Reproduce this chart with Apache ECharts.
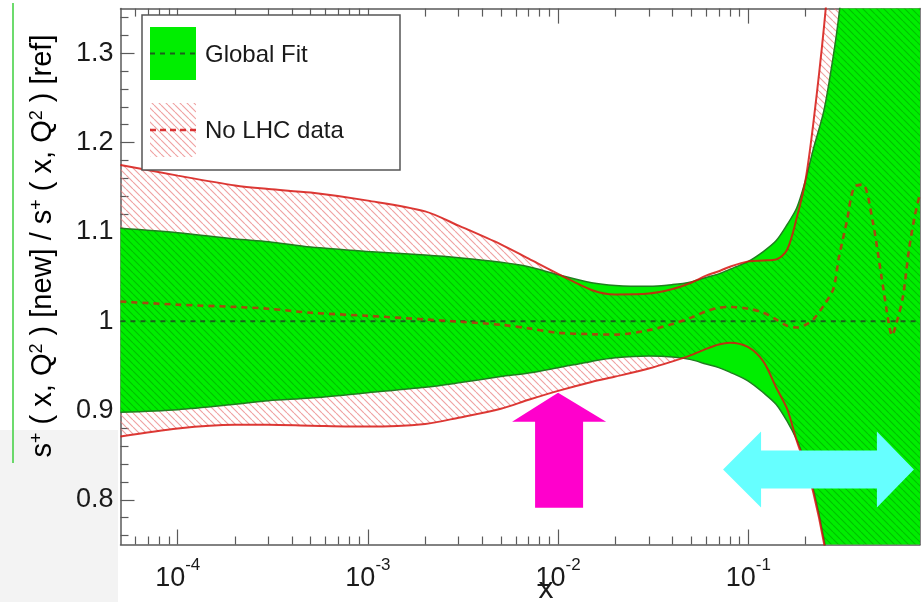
<!DOCTYPE html>
<html>
<head>
<meta charset="utf-8">
<script src="https://cdn.jsdelivr.net/npm/echarts@6/dist/echarts.min.js"></script>
<style>
  html, body { margin: 0; padding: 0; background: #ffffff; }
  #chart { width: 924px; height: 602px; }
</style>
</head>
<body>
<div id="chart"></div>
<script>
// Momentum fraction grid shared by every curve
const xs = [5e-5, 1e-4, 2e-4, 3e-4, 5e-4, 1e-3, 2e-3, 3e-3, 5e-3, 7e-3,
            1e-2, 1.5e-2, 2e-2, 3e-2, 4e-2, 5e-2, 6e-2, 7e-2, 8e-2, 0.1,
            0.12, 0.14, 0.16, 0.18, 0.2, 0.22, 0.25, 0.28, 0.3, 0.33,
            0.36, 0.4, 0.45, 0.5, 0.55, 0.57, 0.6, 0.65, 0.7, 0.75, 0.8];

// Global Fit uncertainty band (ratio to reference)
const gfUpper = [1.104, 1.099, 1.092, 1.089, 1.083, 1.078, 1.074, 1.071, 1.066, 1.061,
                 1.052, 1.043, 1.040, 1.039, 1.041, 1.044, 1.049, 1.053, 1.058, 1.067,
                 1.078, 1.090, 1.108, 1.127, 1.158, 1.193, 1.236, 1.297, 1.343, 1.42,
                 1.50, 1.60, 1.72, 1.85, 1.98, 2.03, 2.10, 2.20, 2.30, 2.40, 2.50];
const gfLower = [0.898, 0.901, 0.907, 0.911, 0.914, 0.920, 0.926, 0.931, 0.938, 0.942,
                 0.948, 0.955, 0.959, 0.961, 0.960, 0.957, 0.952, 0.948, 0.943, 0.933,
                 0.920, 0.907, 0.888, 0.867, 0.842, 0.812, 0.756, 0.69, 0.64, 0.57,
                 0.50, 0.43, 0.36, 0.30, 0.25, 0.23, 0.20, 0.16, 0.13, 0.10, 0.08];
// Global Fit central value (unit ratio)
const gfCentralX = [5e-5, 0.8];
const gfCentral = [1, 1];

// Fit without LHC data: band and central value
const nlUpper = [1.175, 1.163, 1.152, 1.148, 1.144, 1.135, 1.123, 1.107, 1.086, 1.070,
                 1.053, 1.035, 1.030, 1.031, 1.036, 1.043, 1.051, 1.056, 1.061, 1.067,
                 1.068, 1.069, 1.080, 1.116, 1.158, 1.222, 1.329, 1.45, 1.55, 1.70,
                 1.85, 2.0, 2.2, 2.4, 2.6, 2.68, 2.8, 3.0, 3.2, 3.4, 3.6];
const nlLower = [0.871, 0.880, 0.884, 0.884, 0.883, 0.882, 0.885, 0.892, 0.902, 0.912,
                 0.922, 0.932, 0.938, 0.947, 0.955, 0.962, 0.969, 0.974, 0.976, 0.971,
                 0.955, 0.926, 0.902, 0.866, 0.838, 0.808, 0.752, 0.685, 0.63, 0.56,
                 0.49, 0.42, 0.35, 0.29, 0.24, 0.22, 0.19, 0.15, 0.12, 0.09, 0.07];
const nlCentral = [1.022, 1.0185, 1.016, 1.014, 1.0095, 1.006, 1.002, 0.9995, 0.996, 0.992,
                   0.987, 0.9855, 0.985, 0.990, 0.997, 1.004, 1.011, 1.015, 1.016, 1.014,
                   1.0095, 1.002, 0.995, 0.993, 0.996, 1.002, 1.018, 1.036, 1.072, 1.112,
                   1.150, 1.153, 1.113, 1.052, 0.996, 0.984, 0.997, 1.027, 1.080, 1.117, 1.143];

// Axis ticks and labels
const xMajor = [1e-4, 1e-3, 1e-2, 1e-1];
const xMinor = [6e-5, 7e-5, 8e-5, 9e-5,
                2e-4, 3e-4, 4e-4, 5e-4, 6e-4, 7e-4, 8e-4, 9e-4,
                2e-3, 3e-3, 4e-3, 5e-3, 6e-3, 7e-3, 8e-3, 9e-3,
                2e-2, 3e-2, 4e-2, 5e-2, 6e-2, 7e-2, 8e-2, 9e-2,
                2e-1, 3e-1, 4e-1, 5e-1, 6e-1, 7e-1];
const yMajor = [0.8, 0.9, 1, 1.1, 1.2, 1.3];
const yMinor = [0.76, 0.78, 0.82, 0.84, 0.86, 0.88, 0.92, 0.94, 0.96, 0.98,
                1.02, 1.04, 1.06, 1.08, 1.12, 1.14, 1.16, 1.18, 1.22, 1.24,
                1.26, 1.28, 1.32, 1.34];

// Annotation anchors in data coordinates
const upArrowTip = [0.01, 0.92];
const spanArrow = { from: 0.0737, to: 0.743, y: 0.834 };

const FONT = '"Liberation Sans", Arial, Helvetica, sans-serif';
const GREEN = '#00ee00';
const SMOOTH = 0.3;

function hatch(color, period, width) {
  const c = document.createElement('canvas');
  c.width = period; c.height = period;
  const g = c.getContext('2d');
  g.strokeStyle = color; g.lineWidth = width;
  g.beginPath();
  for (let k = -1; k <= 1; k++) {
    g.moveTo(k * period, 0);
    g.lineTo(k * period + period, period);
  }
  g.stroke();
  return c;
}
const pinkHatch = { image: hatch('rgba(232,120,120,0.7)', 7, 1.1), repeat: 'repeat' };
const darkHatch = { image: hatch('rgba(0,95,0,0.32)', 7, 1.1), repeat: 'repeat' };

function pts(xv, yv) { return xv.map((x, i) => [x, yv[i]]); }

// Filled band: a transparent lower edge with the band width stacked on it.
// Rows are [value, x] so that the stacked column is the vertical one.
function band(id, lower, upper, fill, z) {
  const common = { type: 'line', stack: id, stackStrategy: 'all', symbol: 'none',
                   encode: { x: 1, y: 0 },
                   smooth: SMOOTH, silent: true, z: z, lineStyle: { width: 0, opacity: 0 } };
  return [
    Object.assign({ name: id + '-base', data: xs.map((x, i) => [lower[i], x]) }, common),
    Object.assign({ name: id, data: xs.map((x, i) => [Math.max(upper[i] - lower[i], 0), x]),
                    areaStyle: { color: fill, opacity: 1 } }, common)
  ];
}
function curve(name, xv, yv, color, width, dash, z) {
  return { name: name, type: 'line', data: pts(xv, yv), symbol: 'none', smooth: SMOOTH,
           silent: true, z: z,
           lineStyle: { color: color, width: width, type: dash || 'solid' } };
}

// Overlap of the two bands, where the hatching sits on top of the green fill
const ovLower = xs.map((x, i) => Math.max(gfLower[i], nlLower[i]));
const ovUpper = xs.map((x, i) => Math.min(gfUpper[i], nlUpper[i]));

const chart = echarts.init(document.getElementById('chart'), null, { renderer: 'canvas' });

const logAxis = (extra) => Object.assign({
  type: 'log', logBase: 10, min: 5e-5, max: 0.8, gridIndex: 0,
  splitLine: { show: false }, minorTick: { show: false }, minorSplitLine: { show: false }
}, extra);
const valAxis = (extra) => Object.assign({
  type: 'value', min: 0.75, max: 1.35, gridIndex: 0,
  splitLine: { show: false }, minorTick: { show: false }
}, extra);
const frame = { show: true, lineStyle: { color: '#5a5a5a', width: 1.5 } };
const tickStyle = { color: '#5a5a5a', width: 1.2 };

const option = {
  animation: false,
  backgroundColor: '#ffffff',
  textStyle: { fontFamily: FONT },
  grid: { left: 120.5, right: 4, top: 8.6, bottom: 57.5, containLabel: false },
  xAxis: [
    logAxis({ position: 'bottom', axisLine: frame,
      axisTick: { show: true, inside: true, length: 15, customValues: xMajor, lineStyle: tickStyle },
      axisLabel: { show: true, customValues: xMajor, margin: 12,
        formatter: (v) => '{b|10}{s|' + Math.round(Math.log10(v)) + '}',
        rich: {
          b: { fontSize: 27, color: '#1a1a1a', fontFamily: FONT, padding: [9, 0, 0, 0] },
          s: { fontSize: 17, color: '#1a1a1a', fontFamily: FONT, verticalAlign: 'top' }
        } } }),
    logAxis({ position: 'bottom', axisLine: { show: false },
      axisTick: { show: true, inside: true, length: 8, customValues: xMinor, lineStyle: tickStyle },
      axisLabel: { show: false } }),
    logAxis({ position: 'top', axisLine: frame,
      axisTick: { show: true, inside: true, length: 15, customValues: xMajor, lineStyle: tickStyle },
      axisLabel: { show: false } }),
    logAxis({ position: 'top', axisLine: { show: false },
      axisTick: { show: true, inside: true, length: 8, customValues: xMinor, lineStyle: tickStyle },
      axisLabel: { show: false } })
  ],
  yAxis: [
    valAxis({ position: 'left', axisLine: frame,
      axisTick: { show: true, inside: true, length: 14, customValues: yMajor, lineStyle: tickStyle },
      axisLabel: { show: true, customValues: yMajor, margin: 7, fontSize: 27, color: '#1a1a1a',
                   fontFamily: FONT } }),
    valAxis({ position: 'left', axisLine: { show: false },
      axisTick: { show: true, inside: true, length: 8, customValues: yMinor, lineStyle: tickStyle },
      axisLabel: { show: false } }),
    valAxis({ position: 'right', axisLine: frame, axisTick: { show: false }, axisLabel: { show: false } })
  ],
  series: [].concat(
    band('noLhcBand', nlLower, nlUpper, pinkHatch, 1),
    band('globalBand', gfLower, gfUpper, GREEN, 2),
    band('overlap', ovLower, ovUpper, darkHatch, 3),
    [
      curve('Global Fit upper', xs, gfUpper, '#1f7f1f', 1.5, null, 4),
      curve('Global Fit lower', xs, gfLower, '#1f7f1f', 1.5, null, 4),
      curve('No LHC upper', xs, nlUpper, 'rgba(214,22,18,0.85)', 2, null, 5),
      curve('No LHC lower', xs, nlLower, 'rgba(214,22,18,0.85)', 2, null, 5),
      curve('Global Fit', gfCentralX, gfCentral, '#1c5f1c', 2, [5, 5], 6),
      curve('No LHC data', xs, nlCentral, 'rgba(192,48,18,0.85)', 2.6, [6, 5], 6)
    ]
  )
};
chart.setOption(option);

// Annotations, legend and titles
const px = (x, y) => chart.convertToPixel({ xAxisIndex: 0, yAxisIndex: 0 }, [x, y]);
const tip = px(upArrowTip[0], upArrowTip[1]);
const sL = px(spanArrow.from, spanArrow.y);
const sR = px(spanArrow.to, spanArrow.y);

const upArrow = [
  [tip[0], tip[1]], [tip[0] + 48, tip[1] + 29], [tip[0] + 25, tip[1] + 29],
  [tip[0] + 25, tip[1] + 115], [tip[0] - 23, tip[1] + 115], [tip[0] - 23, tip[1] + 29],
  [tip[0] - 46, tip[1] + 29]
];
const cy = sL[1];
const span = [
  [sL[0], cy], [sL[0] + 38, cy - 38], [sL[0] + 38, cy - 19], [sR[0] - 37, cy - 19],
  [sR[0] - 37, cy - 38], [sR[0], cy], [sR[0] - 37, cy + 38], [sR[0] - 37, cy + 19],
  [sL[0] + 38, cy + 19], [sL[0] + 38, cy + 38]
];

const titleRich = {
  n: { fontSize: 29, fontFamily: FONT, color: '#1a1a1a' },
  u: { fontSize: 18, fontFamily: FONT, color: '#1a1a1a', verticalAlign: 'top' }
};

chart.setOption({
  graphic: [
    // page margin: shaded corner and thin green rule on the left
    { type: 'rect', z: -10, shape: { x: 0, y: 430, width: 118, height: 172 },
      style: { fill: '#f3f3f3' }, silent: true },
    { type: 'line', z: -9, shape: { x1: 13, y1: 3, x2: 13, y2: 463 },
      style: { stroke: '#3ccf3c', lineWidth: 1.5 }, silent: true },
    { type: 'polygon', z: 50, shape: { points: upArrow }, style: { fill: '#ff00cc' }, silent: true },
    { type: 'polygon', z: 50, shape: { points: span }, style: { fill: '#66ffff' }, silent: true },
    // legend
    { type: 'rect', z: 60, shape: { x: 142, y: 15, width: 258, height: 155 },
      style: { fill: '#ffffff', stroke: '#555555', lineWidth: 1.5 } },
    { type: 'rect', z: 61, shape: { x: 150, y: 27, width: 46, height: 53 }, style: { fill: GREEN } },
    { type: 'line', z: 62, shape: { x1: 150, y1: 53.5, x2: 196, y2: 53.5 },
      style: { stroke: '#1c5f1c', lineWidth: 2, lineDash: [5, 5] } },
    { type: 'rect', z: 61, shape: { x: 150, y: 103, width: 46, height: 54 }, style: { fill: pinkHatch } },
    { type: 'line', z: 62, shape: { x1: 150, y1: 130, x2: 196, y2: 130 },
      style: { stroke: 'rgba(214,30,30,0.9)', lineWidth: 2.4, lineDash: [6, 4] } },
    { type: 'text', z: 62, x: 205, y: 55,
      style: { text: 'Global Fit', font: '24px ' + FONT, fill: '#1a1a1a', verticalAlign: 'middle' } },
    { type: 'text', z: 62, x: 205, y: 131,
      style: { text: 'No LHC data', font: '24px ' + FONT, fill: '#1a1a1a', verticalAlign: 'middle' } },
    // axis titles
    { type: 'text', z: 62, x: 546, y: 590,
      style: { text: 'x', font: '30px ' + FONT, fill: '#1a1a1a', align: 'center', verticalAlign: 'middle' } },
    { type: 'text', z: 62, x: 43, y: 246, rotation: Math.PI / 2,
      style: { text: '{n|s}{u|+}{n| ( x, Q}{u|2}{n| ) [new] / s}{u|+}{n| ( x, Q}{u|2}{n| ) [ref]}',
               rich: titleRich, align: 'center', verticalAlign: 'middle' } }
  ]
});
</script>
</body>
</html>
